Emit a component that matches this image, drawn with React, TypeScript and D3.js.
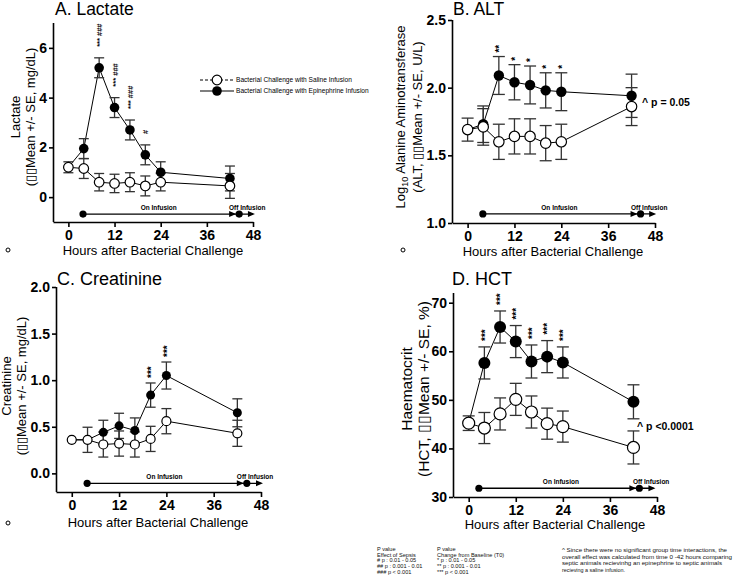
import React, { useEffect, useRef } from 'react';
import * as d3 from 'd3';

// sampling times (hours after bacterial challenge)
const hours = [0, 4, 8, 12, 16, 20, 24, 42];
const xTicks = [0, 12, 24, 36, 48];

// A. Lactate (mg/dL)
const lactateSaline = [1.2, 1.15, 0.6, 0.55, 0.6, 0.45, 0.6, 0.45];
const lactateSalineSE = [0.22, 0.4, 0.35, 0.37, 0.38, 0.4, 0.35, 0.5];
const lactateEpi = [1.2, 1.95, 5.2, 3.6, 2.7, 1.7, 1.0, 0.75];
const lactateEpiSE = [0, 0.4, 0.4, 0.4, 0.4, 0.4, 0.42, 0.5];
const lactateTicks = [0, 2, 4, 6];
const lactateMarks = [
  { h: 8, t: '*** ###' },
  { h: 12, t: '*** ###' },
  { h: 16, t: '*** ###' },
  { h: 20, t: '#' },
];

// B. ALT (log10 U/L)
const altSaline = [1.69, 1.71, 1.6, 1.64, 1.64, 1.59, 1.6, 1.86];
const altSalineSE = [0.085, 0.135, 0.13, 0.13, 0.13, 0.13, 0.13, 0.14];
const altEpi = [1.69, 1.73, 2.09, 2.04, 2.02, 1.98, 1.97, 1.94];
const altEpiSE = [0, 0.135, 0.14, 0.13, 0.14, 0.13, 0.14, 0.16];
const altTicks = [1.0, 1.5, 2.0, 2.5];
const altMarks = [
  { h: 8, t: '**' },
  { h: 12, t: '*' },
  { h: 16, t: '*' },
  { h: 20, t: '*' },
  { h: 24, t: '*' },
];

// C. Creatinine (mg/dL)
const creatSaline = [0.36, 0.36, 0.31, 0.32, 0.31, 0.37, 0.56, 0.43];
const creatSalineSE = [0, 0.135, 0.135, 0.135, 0.135, 0.135, 0.135, 0.14];
const creatEpi = [0.36, 0.36, 0.44, 0.51, 0.46, 0.84, 1.05, 0.65];
const creatEpiSE = [0, 0, 0.13, 0.135, 0.135, 0.13, 0.145, 0.15];
const creatTicks = [0, 0.5, 1.0, 1.5, 2.0];
const creatMarks = [
  { h: 20, t: '***' },
  { h: 24, t: '***' },
];

// D. HCT (%)
const hctSaline = [45.2, 44.2, 47.1, 50.1, 47.5, 45.1, 44.5, 40.2];
const hctSalineSE = [1.5, 3.2, 3.3, 3.3, 3.3, 3.2, 3.2, 3.4];
const hctEpi = [45.2, 57.6, 65.0, 62.0, 57.9, 58.9, 57.7, 49.6];
const hctEpiSE = [0, 3.3, 3.3, 3.3, 3.4, 3.3, 3.2, 3.5];
const hctTicks = [30, 40, 50, 60, 70];
const hctMarks = [4, 8, 12, 16, 20, 24].map(h => ({ h, t: '***' }));

const legendLabels = [
  'Bacterial Challenge with Saline Infusion',
  'Bacterial Challenge with Epinephrine Infusion',
];

const notesSepsis = ['P value', 'Effect of Sepsis', '# p : 0.01 - 0.05', '## p : 0.001 - 0.01', '### p < 0.001'];
const notesBaseline = ['P value', 'Change from Baseline (T0)', '* p : 0.01 - 0.05', '** p : 0.001 - 0.01', '*** p < 0.001'];
const notesGroup = [
  '^ Since there were no significant group time interactions, the',
  'overall effect was calculated from time 0 -42 hours comparing',
  'septic animals recievinhg an epinephrine to septic animals',
  'recieving a saline infusion.',
];
const notesGroupWidth = [165, 170, 160, 63];

const FONT = "'Liberation Sans', Arial, Helvetica, sans-serif";
const TOFU = '\u25AF\u25AF';

const panels = [
  {
    title: 'A. Lactate', titleX: 55, titleY: 15, titleSize: 17.5,
    xRange: [53, 253], yRange: [222, 23], yDomain: [-1, 7], yTicks: lactateTicks, fmt: d3.format('d'),
    saline: lactateSaline, salineSE: lactateSalineSE, epi: lactateEpi, epiSE: lactateEpiSE,
    marks: lactateMarks, markGap: 11, markSize: 7.5,
    yLabel1: ['Lactate'], yLabel2: `(${TOFU}Mean +/- SE, mg/dL)`, yLabX: [20, 35], yLabY: 117, yLabSize: 13,
    xLabX: 153, xLabY: 255, infY: -0.68, infStart: 3.8, infOff: 44.4, infEnd: 48.5,
    r: 4.8, cap: 5, bullet: [8, 250],
  },
  {
    title: 'B. ALT', titleX: 453, titleY: 15, titleSize: 17.5,
    xRange: [452, 655], yRange: [223, 20], yDomain: [1, 2.5], yTicks: altTicks, fmt: d3.format('.1f'),
    saline: altSaline, salineSE: altSalineSE, epi: altEpi, epiSE: altEpiSE,
    marks: altMarks, markGap: 4, markSize: 10, pText: '^ p = 0.05', pX: 642, pY: 106,
    yLabel1: ['Log', '10', ' Alanine Aminotransferase'], yLabel2: `(ALT, ${TOFU}Mean +/- SE, U/L)`, yLabX: [405, 422], yLabY: 117, yLabSize: 13,
    xLabX: 553, xLabY: 256, infY: 1.067, infStart: 3.9, infOff: 44.3, infEnd: 48.3,
    r: 5.2, cap: 6, bullet: [403, 250],
  },
  {
    title: 'C. Creatinine', titleX: 57, titleY: 285, titleSize: 18,
    xRange: [56, 261], yRange: [492, 287], yDomain: [-0.2, 2.0], yTicks: creatTicks, fmt: d3.format('.1f'),
    saline: creatSaline, salineSE: creatSalineSE, epi: creatEpi, epiSE: creatEpiSE,
    marks: creatMarks, markGap: 5, markSize: 10,
    yLabel1: ['Creatinine'], yLabel2: `(${TOFU}Mean +/- SE, mg/dL)`, yLabX: [11, 26], yLabY: 386, yLabSize: 13,
    xLabX: 158, xLabY: 527, infY: -0.107, infStart: 3.9, infOff: 44.4, infEnd: 48.5,
    r: 4.5, cap: 5, bullet: [8, 523],
  },
  {
    title: 'D. HCT', titleX: 452, titleY: 285, titleSize: 18,
    xRange: [453, 657], yRange: [497, 293], yDomain: [30, 72], yTicks: hctTicks, fmt: d3.format('d'),
    saline: hctSaline, salineSE: hctSalineSE, epi: hctEpi, epiSE: hctEpiSE,
    marks: hctMarks, markGap: 6, markSize: 10, pText: '^ p <0.0001', pX: 637, pY: 430,
    yLabel1: ['Haematocrit'], yLabel2: `(HCT, ${TOFU}Mean +/- SE, %)`, yLabX: [412, 429], yLabY: 389, yLabSize: 15.5,
    xLabX: 555, xLabY: 529, infY: 31.8, infStart: 2.6, infOff: 43.5, infEnd: 47.6,
    r: 6, cap: 6, bullet: null,
  },
];

function ErrorBars({ x, y, vals, se, cap }) {
  return (
    <g stroke="#333" strokeWidth={1.3}>
      {hours.map((h, i) => {
        if (!se[i]) return null;
        const cx = x(h);
        const y0 = y(vals[i] - se[i]);
        const y1 = y(vals[i] + se[i]);
        return (
          <g key={i}>
            <line x1={cx} x2={cx} y1={y0} y2={y1} />
            <line x1={cx - cap} x2={cx + cap} y1={y0} y2={y0} />
            <line x1={cx - cap} x2={cx + cap} y1={y1} y2={y1} />
          </g>
        );
      })}
    </g>
  );
}

function Panel({ p }) {
  const gx = useRef(null);
  const gy = useRef(null);
  const x = d3.scaleLinear().domain([-4, 48]).range(p.xRange);
  const y = d3.scaleLinear().domain(p.yDomain).range(p.yRange);

  useEffect(() => {
    const sx = d3.select(gx.current)
      .call(d3.axisBottom(x).tickValues(xTicks).tickSize(5).tickSizeOuter(0).tickPadding(3));
    const sy = d3.select(gy.current)
      .call(d3.axisLeft(y).tickValues(p.yTicks).tickFormat(p.fmt).tickSize(4).tickSizeOuter(0).tickPadding(2));
    [sx, sy].forEach(s => {
      s.attr('font-family', FONT).attr('font-size', 14).attr('font-weight', 'bold');
      s.select('.domain').attr('stroke-width', 1.6);
      s.selectAll('.tick line').attr('stroke-width', 1.6);
      s.selectAll('.tick text').attr('fill', '#000');
    });
    // y axis runs from the bottom of the frame to its top
    sy.select('.domain').attr('d', `M0.5,${p.yRange[0]}V${p.yRange[1]}`);
  }, []);

  const line = d3.line<number>().x((_, i) => x(hours[i])).y(d => y(d));
  const iy = y(p.infY);
  const xOff = x(p.infOff);
  const xEnd = x(p.infEnd);
  const arrow = (tip: number) => `M${tip},${iy}L${tip - 7},${iy - 3}L${tip - 7},${iy + 3}Z`;

  return (
    <g fontFamily={FONT}>
      <text x={p.titleX} y={p.titleY} fontSize={p.titleSize}>{p.title}</text>
      <g ref={gx} transform={`translate(0,${p.yRange[0]})`} />
      <g ref={gy} transform={`translate(${p.xRange[0]},0)`} />

      {/* infusion timeline */}
      <g>
        <line x1={x(p.infStart)} x2={xEnd - 2} y1={iy} y2={iy} stroke="#000" strokeWidth={1.3} />
        <circle cx={x(p.infStart)} cy={iy} r={3.6} fill="#000" />
        <path d={arrow(xOff - 3)} fill="#000" />
        <circle cx={xOff} cy={iy} r={3.6} fill="#000" />
        <path d={arrow(xEnd)} fill="#000" />
        <text x={x(23.5)} y={iy - 4} fontSize={6.5} fontWeight="bold" textAnchor="middle">On Infusion</text>
        <text x={x(46.5)} y={iy - 4} fontSize={6.5} fontWeight="bold" textAnchor="middle">Off Infusion</text>
      </g>

      <path d={line(p.epi)} fill="none" stroke="#000" strokeWidth={1} />
      <path d={line(p.saline)} fill="none" stroke="#000" strokeWidth={1} />
      <ErrorBars x={x} y={y} vals={p.epi} se={p.epiSE} cap={p.cap} />
      <ErrorBars x={x} y={y} vals={p.saline} se={p.salineSE} cap={p.cap} />
      {hours.map((h, i) => (
        <circle key={'e' + i} cx={x(h)} cy={y(p.epi[i])} r={p.r} fill="#000" />
      ))}
      {hours.map((h, i) => (
        <circle key={'s' + i} cx={x(h)} cy={y(p.saline[i])} r={p.r} fill="#fff" stroke="#000" strokeWidth={1.2} />
      ))}

      {/* significance marks above the epinephrine error bars */}
      {p.marks.map((m, k) => {
        const i = hours.indexOf(m.h);
        const ty = y(p.epi[i] + p.epiSE[i]) - p.markGap;
        return (
          <text key={k} transform={`translate(${x(m.h)},${ty}) rotate(-90)`} dy="0.42em"
            fontSize={p.markSize} fontWeight="bold">{m.t}</text>
        );
      })}

      {p.pText && (
        <text x={p.pX} y={p.pY} fontSize={10.5} fontWeight="bold">{p.pText}</text>
      )}

      {/* axis titles */}
      <text transform={`translate(${p.yLabX[0]},${p.yLabY}) rotate(-90)`} textAnchor="middle" fontSize={p.yLabSize}>
        {p.yLabel1.length === 1 ? p.yLabel1[0] : (
          <>
            {p.yLabel1[0]}
            <tspan fontSize={p.yLabSize * 0.7} dy="0.3em">{p.yLabel1[1]}</tspan>
            <tspan dy="-0.21em">{p.yLabel1[2]}</tspan>
          </>
        )}
      </text>
      <text transform={`translate(${p.yLabX[1]},${p.yLabY}) rotate(-90)`} textAnchor="middle" fontSize={p.yLabSize}>
        {p.yLabel2}
      </text>
      <text x={p.xLabX} y={p.xLabY} textAnchor="middle" fontSize={13}>Hours after Bacterial Challenge</text>
      {p.bullet && <circle cx={p.bullet[0]} cy={p.bullet[1]} r={2} fill="none" stroke="#000" strokeWidth={1} />}
    </g>
  );
}

export default function App() {
  return (
    <svg width={733} height={579} style={{ position: 'absolute', left: 0, top: 0, background: '#fff' }}
      fontFamily={FONT}>
      <rect width={733} height={579} fill="#fff" />
      {panels.map((p, i) => <Panel key={i} p={p} />)}

      {/* legend */}
      <g>
        <line x1={200} x2={234} y1={80} y2={80} stroke="#000" strokeWidth={1} strokeDasharray="3,2" />
        <circle cx={217} cy={80} r={4.8} fill="#fff" stroke="#000" strokeWidth={1.2} />
        <text x={236} y={82} fontSize={6.6}>{legendLabels[0]}</text>
        <line x1={200} x2={234} y1={91} y2={91} stroke="#000" strokeWidth={1.2} />
        <circle cx={217} cy={91} r={4.8} fill="#000" />
        <text x={236} y={93} fontSize={6.6}>{legendLabels[1]}</text>
      </g>

      {/* footnotes */}
      <g fontSize={5.6} fill="#111">
        {notesSepsis.map((t, i) => (
          <text key={'a' + i} x={377} y={551 + i * 5.7}>{t}</text>
        ))}
        {notesBaseline.map((t, i) => (
          <text key={'b' + i} x={437} y={551 + i * 5.7}>{t}</text>
        ))}
      </g>
      <g fontSize={6} fill="#111">
        {notesGroup.map((t, i) => (
          <text key={'c' + i} x={562} y={552 + i * 6.5} textLength={notesGroupWidth[i]}
            lengthAdjust="spacingAndGlyphs">{t}</text>
        ))}
      </g>
    </svg>
  );
}
